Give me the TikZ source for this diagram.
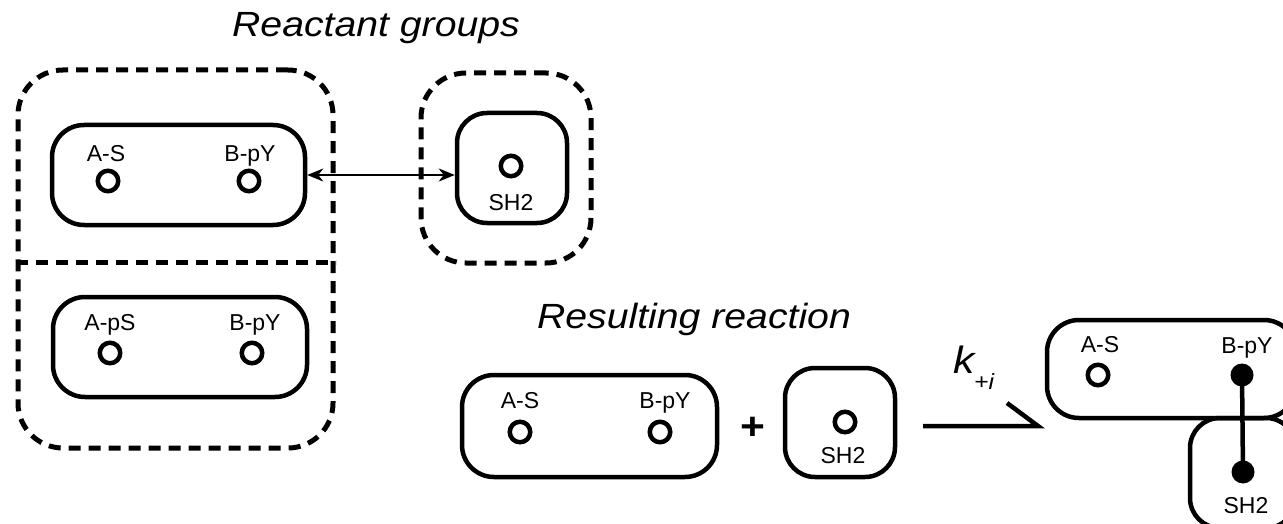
\documentclass[tikz,border=0pt]{standalone}
\usepackage{fontspec}
\setmainfont{Liberation Sans}[FakeStretch=1.12]
\newfontfamily\labfont{Liberation Sans}
\usetikzlibrary{arrows.meta}
\begin{document}
\begin{tikzpicture}[x=1pt,y=-1pt,
  mol/.style={draw, line width=4.5pt, rounded corners=32pt, inner sep=0pt},
  grp/.style={draw, line width=5pt, dash pattern=on 12pt off 8pt, rounded corners=45pt, inner sep=0pt},
  divline/.style={line width=5pt, dash pattern=on 12pt off 8pt},
  site/.style={circle, draw, line width=4.5pt, minimum size=20.5pt, inner sep=0pt},
  bsite/.style={circle, fill, minimum size=23pt, inner sep=0pt},
  lab/.style={font=\labfont\fontsize{23}{26}\selectfont, inner sep=0pt, anchor=base},
  title/.style={font=\fontsize{35}{40}\selectfont\itshape, inner sep=0pt, anchor=base},
  bond/.style={line width=4.5pt},
  dblarrow/.style={line width=2pt, {Stealth[length=16pt,width=13pt,inset=5pt]}-{Stealth[length=16pt,width=13pt,inset=5pt]}},
  rxn/.style={line width=4.5pt}]
\useasboundingbox (0,0) rectangle (1283,524);

% titles
\node[title] (t1) at (376,37) {Reactant groups};
\node[title] (t2) at (694,328) {Resulting reaction};

% reactant group 1
\node[grp, minimum width=315pt, minimum height=378pt] (g1) at (175.5,259) {};
\draw[divline] ([yshift=-3pt]g1.west) -- ([yshift=-3pt]g1.east);

\node[mol, minimum width=253pt, minimum height=100pt] (m1) at (178.5,175) {};
\node[lab] (m1a) at (106,161) {A-S};
\node[lab] (m1b) at (250,161) {B-pY};
\node[site] (m1ac) at (108,181) {};
\node[site] (m1bc) at (249,181) {};

\node[mol, minimum width=254pt, minimum height=100pt] (m2) at (180,347) {};
\node[lab] (m2a) at (110,330) {A-pS};
\node[lab] (m2b) at (255,330) {B-pY};
\node[site] (m2ac) at (110,353) {};
\node[site] (m2bc) at (252,353) {};

% reactant group 2
\node[grp, minimum width=170pt, minimum height=190pt] (g2) at (506,168) {};
\node[mol, minimum width=110pt, minimum height=110pt, rounded corners=30pt] (s1) at (512,168) {};
\node[site] (s1c) at (511,166) {};
\node[lab] (s1l) at (511,210) {SH2};

\draw[dblarrow] (m1.east) -- (s1.west |- m1.east);

% resulting reaction
\node[mol, minimum width=255pt, minimum height=102pt] (m3) at (589.5,426) {};
\node[lab] (m3a) at (520,408) {A-S};
\node[lab] (m3b) at (665,408) {B-pY};
\node[site] (m3ac) at (520,432) {};
\node[site] (m3bc) at (660,432) {};

\node[font=\fontsize{38}{40}\selectfont\bfseries, inner sep=0pt] (plus) at (753,428) {+};

\node[mol, minimum width=110pt, minimum height=109pt, rounded corners=30pt] (s2) at (840,422.5) {};
\node[site] (s2c) at (845,422) {};
\node[lab] (s2l) at (843,463) {SH2};

% reaction arrow
\coordinate (ra1) at (923,426);
\coordinate (ra2) at (1038,426);
\coordinate (ra3) at (1007,403);
\draw[rxn] (ra1) -- (ra2) -- (ra3);
\node[font=\fontsize{38}{40}\selectfont\itshape, inner sep=0pt, anchor=base west] (k) at (953,373) {k};
\node[font=\fontsize{22}{24}\selectfont\itshape, inner sep=0pt, anchor=base west] (ksub) at (974,389) {+i};

% complex
\node[mol, minimum width=249pt, minimum height=98pt] (c1) at (1171.5,369) {};
\node[mol, minimum width=106pt, minimum height=110pt, rounded corners=30pt] (c2) at (1243,473) {};
\node[lab] (c1a) at (1100,352) {A-S};
\node[lab] (c1b) at (1247,353) {B-pY};
\node[site] (c1ac) at (1098,375) {};
\node[bsite] (c1bd) at (1242,375) {};
\node[bsite] (c2d) at (1243,472) {};
\node[lab] (c2l) at (1246,513) {SH2};
\draw[bond] (c1bd.center) -- (c2d.center);
\end{tikzpicture}
\end{document}
